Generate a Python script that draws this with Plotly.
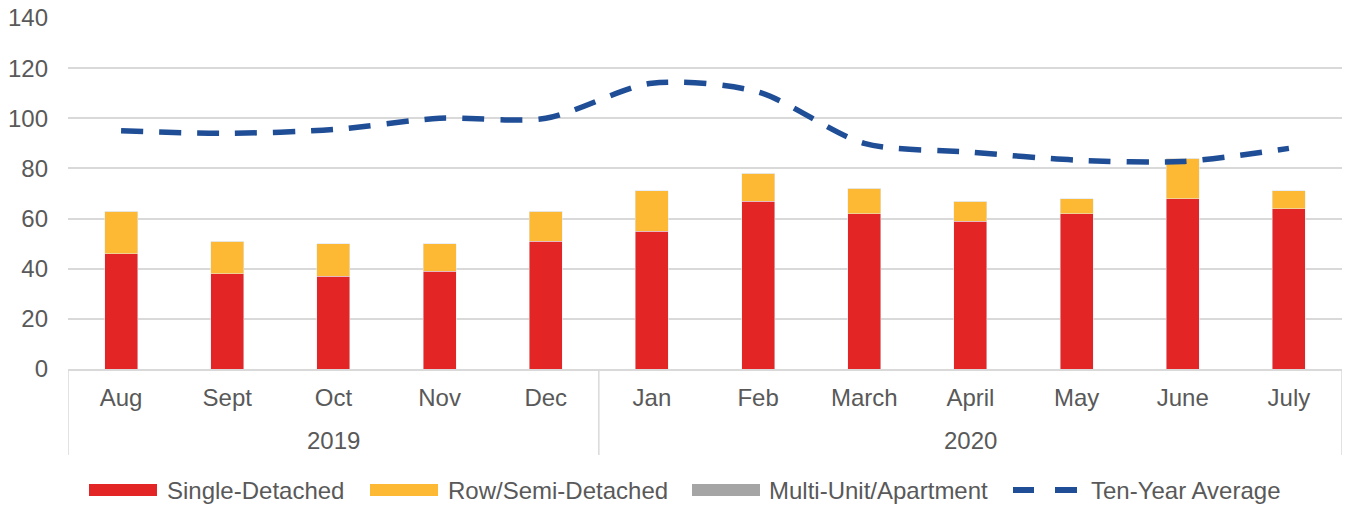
import plotly.graph_objects as go

years = ["2019", "2020"]
year_months = [["Aug", "Sept", "Oct", "Nov", "Dec"],
               ["Jan", "Feb", "March", "April", "May", "June", "July"]]
months = year_months[0] + year_months[1]
single_detached = [46, 38, 37, 39, 51, 55, 67, 62, 59, 62, 68, 64]
row_semi = [17, 13, 13, 11, 12, 16, 11, 10, 8, 6, 16, 7]
multi_unit = [0] * 12
ten_year_avg = [95, 94, 95.5, 100, 100, 114, 110.5, 90, 86.5, 83.3, 82.8, 88]

series_names = ["Single-Detached", "Row/Semi-Detached", "Multi-Unit/Apartment", "Ten-Year Average"]
colors = ["#E32526", "#FDB933", "#A5A5A5", "#1F4E96"]

W, H = 1346, 508
L, R, T, B = 68, 4, 18, 139
pw, ph = W - L - R, H - T - B

def px_x(p):
    return (p - L) / pw

def px_y(p):
    return (H - B - p) / ph

fig = go.Figure()
fig.add_trace(go.Bar(x=months, y=single_detached, name=series_names[0], marker_color=colors[0], showlegend=False))
fig.add_trace(go.Bar(x=months, y=row_semi, name=series_names[1], marker_color=colors[1], showlegend=False))
fig.add_trace(go.Bar(x=months, y=multi_unit, name=series_names[2], marker_color=colors[2], showlegend=False))
fig.add_trace(go.Scatter(x=months, y=ten_year_avg, name=series_names[3], mode="lines", showlegend=False,
                         line=dict(color=colors[3], width=5.5, dash="22px,16px", shape="spline", smoothing=0.8)))

font = dict(family="Liberation Sans, Arial, sans-serif", size=24, color="#595959")

shapes = []
annotations = []
# year group dividers
start = 0
bounds = [-0.5]
for ym in year_months:
    start += len(ym)
    bounds.append(start - 0.5)
for b in bounds:
    shapes.append(dict(type="line", xref="x", yref="paper", x0=b, x1=b, y0=0, y1=px_y(455),
                       line=dict(color="#D9D9D9", width=1.5)))
# year labels
idx = 0
for yr, ym in zip(years, year_months):
    mid = idx + (len(ym) - 1) / 2
    annotations.append(dict(x=mid, y=px_y(440), xref="x", yref="paper", text=yr, showarrow=False,
                            font=font, xanchor="center", yanchor="middle"))
    idx += len(ym)

# legend (manual, wide swatches)
legend_y = px_y(490)
sw = [(89, 157, 165), (370, 438, 446), (692, 760, 767)]
for (x0, x1, tx), name, c in zip(sw, series_names[:3], colors[:3]):
    shapes.append(dict(type="rect", xref="paper", yref="paper", x0=px_x(x0), x1=px_x(x1),
                       y0=px_y(496), y1=px_y(484), fillcolor=c, line=dict(width=0)))
    annotations.append(dict(x=px_x(tx), y=legend_y, xref="paper", yref="paper", text=name, showarrow=False,
                            font=font, xanchor="left", yanchor="middle"))
for x0, x1 in [(1013, 1034), (1055, 1077)]:
    shapes.append(dict(type="line", xref="paper", yref="paper", x0=px_x(x0), x1=px_x(x1),
                       y0=legend_y, y1=legend_y, line=dict(color=colors[3], width=6)))
annotations.append(dict(x=px_x(1089), y=legend_y, xref="paper", yref="paper", text=series_names[3],
                        showarrow=False, font=font, xanchor="left", yanchor="middle"))

fig.update_layout(
    barmode="stack",
    bargap=0.69,
    width=W, height=H,
    margin=dict(l=L, r=R, t=T, b=B, autoexpand=False),
    plot_bgcolor="white", paper_bgcolor="white",
    font=font,
    showlegend=False,
    shapes=shapes,
    annotations=annotations,
)
fig.update_yaxes(range=[0, 140], dtick=20, showgrid=True, gridcolor="#D9D9D9", gridwidth=1.5,
                 zeroline=False, showline=False, tickfont=font, ticks="", automargin=False,
                 ticklabelstandoff=19)
fig.update_xaxes(type="category", showline=True, linecolor="#D9D9D9", linewidth=1.5,
                 tickfont=font, ticks="", automargin=False, ticklabelstandoff=6,
                 range=[-0.5, len(months) - 0.5])
fig.write_html("out.html", config={"displayModeBar": False},
               post_script="document.body.style.margin='0';document.body.style.overflow='hidden';")
